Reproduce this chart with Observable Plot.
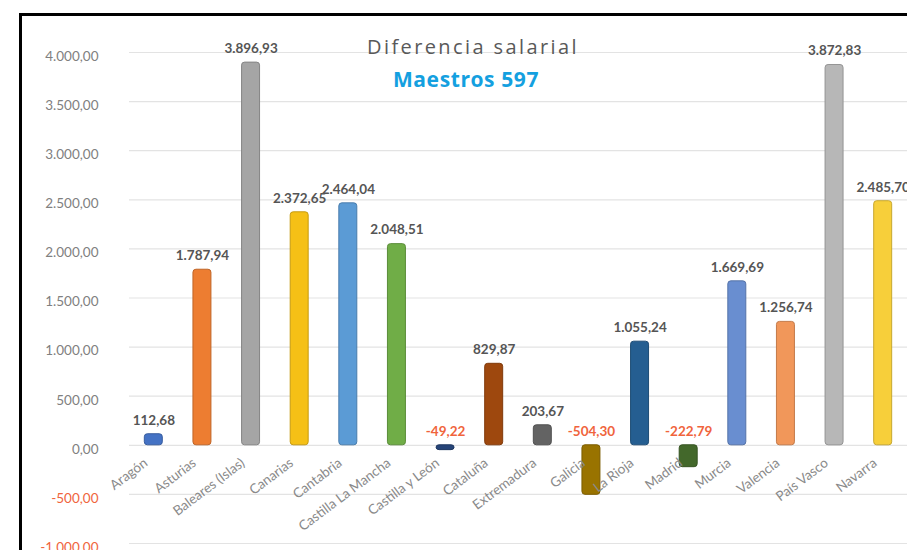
<!DOCTYPE html>
<html><head><meta charset="utf-8">
<script src="https://cdn.jsdelivr.net/npm/d3@7"></script>
<script src="https://cdn.jsdelivr.net/npm/@observablehq/plot@0.6"></script>
<style>
body{margin:0;background:#fff;}
#wrap{position:relative;width:907px;height:550px;overflow:hidden;background:#fff;}
#chart{position:absolute;left:0;top:0;}
#frame{position:absolute;left:19px;top:13px;width:900px;height:560px;border-left:3px solid #000;border-top:3px solid #000;pointer-events:none;}
#t1{position:absolute;left:273px;width:400px;top:33px;text-align:center;font:20px "Open Sans",sans-serif;color:#595959;letter-spacing:2.4px;}
#t2{position:absolute;left:266px;width:400px;top:65px;text-align:center;font:bold 21px "Open Sans",sans-serif;color:#14A0E0;letter-spacing:0.6px;}
</style>
</head><body>
<div id="wrap"><div id="chart"></div><div id="frame"></div>
<div id="t1">Diferencia salarial</div><div id="t2">Maestros 597</div></div>
<script>
const regions = ["Aragón","Asturias","Baleares (Islas)","Canarias","Cantabria","Castilla La Mancha","Castilla y León","Cataluña","Extremadura","Galicia","La Rioja","Madrid","Murcia","Valencia","País Vasco","Navarra"];
const values = [112.68,1787.94,3896.93,2372.65,2464.04,2048.51,-49.22,829.87,203.67,-504.30,1055.24,-222.79,1669.69,1256.74,3872.83,2485.70];
const palette = ["#4472C4","#ED7D31","#A5A5A5","#F5C016","#5B9BD5","#70AD47","#264478","#9E480E","#636363","#997300","#255E91","#43682B","#698ED0","#F1975A","#B7B7B7","#F7CF3A"];
const yTicks = [-1000,-500,0,500,1000,1500,2000,2500,3000,3500,4000];

const data = regions.map((r,i)=>({region:r, value:values[i]}));
const loc = d3.formatLocale({decimal:",", thousands:".", grouping:[3], currency:["","€"], minus:"-"});
const fmt = loc.format(",.2f");
const neg = "#F0643C";

const chart = Plot.plot({
  width:907, height:550,
  marginLeft:129, marginRight:0, marginTop:52, marginBottom:7,
  style:{fontFamily:"Lato, 'Open Sans', sans-serif", background:"transparent"},
  x:{domain:regions, paddingInner:0.63, paddingOuter:0.315, round:false, axis:null},
  y:{domain:[-1000,4000], axis:null},
  color:{domain:regions, range:palette},
  marks:[
    Plot.ruleY(yTicks,{stroke:"#e3e3e3", strokeWidth:1.2}),
    Plot.barY(data,{x:"region", y:"value", fill:"region", stroke:(d,i)=>d3.color(palette[i]).darker(0.6).formatHex(), strokeWidth:1, rx:3}),
    Plot.text(data,{x:"region", y:d=>Math.max(d.value,0), text:d=>fmt(d.value), dy:-14, fontSize:13.5, fontWeight:"bold", letterSpacing:"1.1px",
      fill:d=>d.value<0?neg:"#555555"}),
    Plot.text(data,{x:"region", y:()=>0, text:"region", rotate:-37, textAnchor:"end", dx:-8, dy:16, fontSize:13.5, letterSpacing:"1.8px", fill:"#8a8a8a"}),
    Plot.text(yTicks,{y:d=>d, text:d=>fmt(d), frameAnchor:"left", textAnchor:"end", dx:-31, dy:4, fontSize:13.5, letterSpacing:"1.5px",
      fill:d=>d<0?neg:"#808080"})
  ]
});
document.getElementById("chart").appendChild(chart);
</script>
</body></html>
